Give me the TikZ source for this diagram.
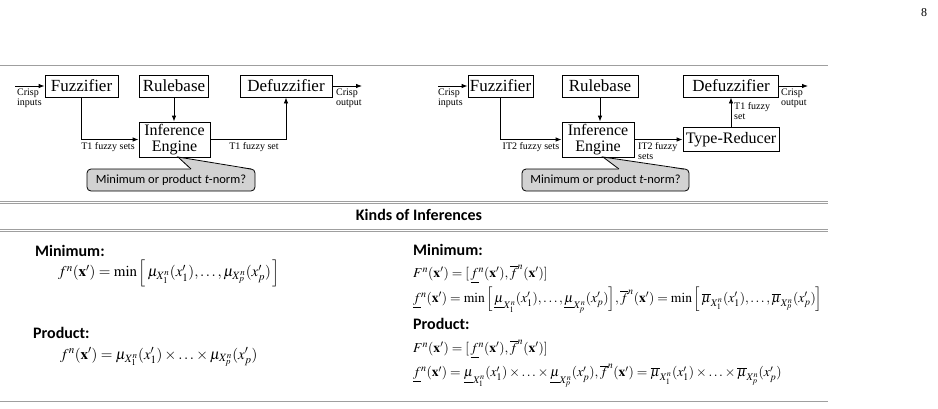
\documentclass[tikz,border=0pt]{standalone}
\usepackage{mathptmx}
\usepackage[no-math]{fontspec}
\setmainfont{Liberation Serif}
\newfontfamily\calibri{Carlito}
\usetikzlibrary{arrows.meta}

\tikzset{
  blk/.style={draw, line width=0.8pt, inner sep=0pt, minimum height=22pt, align=center,
    font=\fontsize{17}{16.5}\selectfont},
  lab/.style={inner sep=0pt, align=left, font=\fontsize{10}{10.5}\selectfont},
  arr/.style={-{Latex[length=6pt,width=4.5pt]}, line width=0.8pt},
  note/.style={draw, line width=0.8pt, fill=gray!35, rounded corners=4pt, minimum height=22pt,
    font=\calibri\fontsize{12.5}{12.5}\selectfont},
  hline/.style={draw=gray!75, line width=1pt},
  hd/.style={anchor=west, inner sep=0pt, font=\calibri\bfseries\fontsize{16}{16}\selectfont},
  eqn/.style={anchor=west, inner sep=0pt, font=\fontsize{15}{18}\selectfont},
  eqnR/.style={eqn, font=\fontsize{13.6}{16}\selectfont},
}

\begin{document}
\begin{tikzpicture}[x=1pt, y=-1pt]
  \useasboundingbox (0,0) rectangle (938,408);
  \node[font=\fontsize{12}{12}\selectfont] (pagenum) at (924,13) {8};
  \draw[hline] (0,65) -- (828,65);

  % T1 system
  \node[blk, minimum width=73pt] (fuzL) at (81.5,86) {Fuzzifier};
  \node[blk, minimum width=69pt] (ruleL) at (174,86) {Rulebase};
  \node[blk, minimum width=92pt] (defL) at (286,86) {Defuzzifier};
  \node[blk, minimum width=71pt, minimum height=35pt, font=\fontsize{16}{16.5}\selectfont]
    (infL) at (174.5,139.5) {Inference\\Engine};
  \coordinate (inL) at (15,86);
  \coordinate (outL) at (362,86);
  \draw[arr] (inL) -- (fuzL);
  \draw[arr] (fuzL.south) |- (infL.west);
  \draw[arr] (ruleL.south) -- (ruleL.south |- infL.north);
  \draw[arr] (infL.east) -| (defL.south);
  \draw[arr] (defL) -- (outL);
  \node[lab, anchor=west] (inLlab) at (17,98) {Crisp\\inputs};
  \node[lab, anchor=west] (outLlab) at (336,98) {Crisp\\output};
  \node[lab] (setsL) at (108,147) {T1 fuzzy sets};
  \node[lab] (setL) at (254,147) {T1 fuzzy set};
  \node[note, minimum width=168pt] (noteL) at (171,180) {Minimum or product \textit{t}-norm?};
  \fill[gray!35] (191,169.8) -- (178,157) -- (251,169.8) -- cycle;
  \draw[line width=0.8pt] (191,169) -- (178,157) -- (251,169);

  % IT2 system
  \node[blk, minimum width=65pt] (fuzR) at (500.5,86) {Fuzzifier};
  \node[blk, minimum width=76pt] (ruleR) at (600,86) {Rulebase};
  \node[blk, minimum width=95pt] (defR) at (731,86) {Defuzzifier};
  \node[blk, minimum width=72pt, minimum height=35pt, font=\fontsize{16}{16.5}\selectfont]
    (infR) at (598,139.5) {Inference\\Engine};
  \node[blk, minimum width=96pt, minimum height=24pt, font=\fontsize{16}{16}\selectfont]
    (trR) at (731,139.5) {Type-Reducer};
  \coordinate (inR) at (438,86);
  \coordinate (outR) at (808,86);
  \draw[arr] (inR) -- (fuzR);
  \draw[arr] (fuzR.south) |- (infR.west);
  \draw[arr] (ruleR.south) -- (ruleR.south |- infR.north);
  \draw[arr] (infR) -- (trR);
  \draw[arr] (trR) -- (defR);
  \draw[arr] (defR) -- (outR);
  \node[lab, anchor=west] (inRlab) at (438,98) {Crisp\\inputs};
  \node[lab, anchor=west] (outRlab) at (781,98) {Crisp\\output};
  \node[lab] (setsR) at (531,147) {IT2 fuzzy sets};
  \node[lab, anchor=north west] (setsR2) at (638,142) {IT2 fuzzy\\sets};
  \node[lab, anchor=north west] (setR) at (734,102) {T1 fuzzy\\set};
  \node[note, minimum width=167pt] (noteR) at (605.5,180) {Minimum or product \textit{t}-norm?};
  \fill[gray!35] (619,169.8) -- (603,157) -- (684,169.8) -- cycle;
  \draw[line width=0.8pt] (619,169) -- (603,157) -- (684,169);

  % kinds of inferences
  \draw[hline] (0,201) -- (828,201);
  \draw[hline] (0,203.5) -- (828,203.5);
  \node[hd, anchor=center] (kinds) at (419,215) {Kinds of Inferences};
  \draw[hline] (0,229) -- (828,229);
  \draw[hline] (0,231.5) -- (828,231.5);
  \draw[hline] (0,401) -- (828,401);

  \node[hd] (minL) at (35,251) {Minimum:};
  \node[eqn] (eqMinL) at (58,273)
    {$f^{n}(\mathbf{x}')=\min\Big[\,\mu_{X_1^n}(x_1'),\ldots,\mu_{X_p^n}(x_p')\,\Big]$};
  \node[hd] (prodL) at (33,333) {Product:};
  \node[eqn] (eqProdL) at (60,357)
    {$f^{n}(\mathbf{x}')=\mu_{X_1^n}(x_1')\times\ldots\times\mu_{X_p^n}(x_p')$};

  \node[hd] (minR) at (413,250) {Minimum:};
  \node[eqnR] (eqF1) at (413,274)
    {$F^{n}(\mathbf{x}')=[\,\underline{f}^{n}(\mathbf{x}'),\overline{f}^{n}(\mathbf{x}')]$};
  \node[eqnR] (eqMinR) at (413,300)
    {$\underline{f}^{n}(\mathbf{x}')=\min\Big[\,\underline{\mu}_{X_1^n}(x_1'),\ldots,\underline{\mu}_{X_p^n}(x_p')\Big],
      \overline{f}^{n}(\mathbf{x}')=\min\Big[\,\overline{\mu}_{X_1^n}(x_1'),\ldots,\overline{\mu}_{X_p^n}(x_p')\Big]$};
  \node[hd] (prodR) at (413,324) {Product:};
  \node[eqnR] (eqF2) at (413,349)
    {$F^{n}(\mathbf{x}')=[\,\underline{f}^{n}(\mathbf{x}'),\overline{f}^{n}(\mathbf{x}')]$};
  \node[eqnR] (eqProdR) at (413,376)
    {$\underline{f}^{n}(\mathbf{x}')=\underline{\mu}_{X_1^n}(x_1')\times\ldots\times\underline{\mu}_{X_p^n}(x_p'),
      \overline{f}^{n}(\mathbf{x}')=\overline{\mu}_{X_1^n}(x_1')\times\ldots\times\overline{\mu}_{X_p^n}(x_p')$};
\end{tikzpicture}
\end{document}
